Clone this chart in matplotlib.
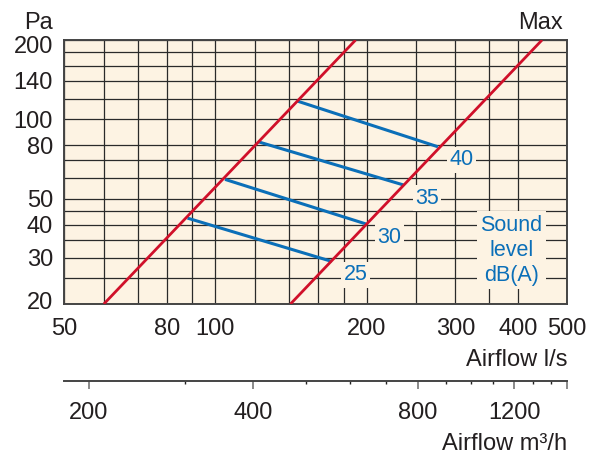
import matplotlib
matplotlib.use("Agg")
import matplotlib.pyplot as plt
from matplotlib.ticker import FixedLocator, FixedFormatter, NullFormatter
from matplotlib.transforms import ScaledTranslation

plt.rcParams['font.family'] = ['Liberation Sans', 'DejaVu Sans']

# axis ticks / grid
x_major = [50, 80, 100, 200, 300, 400, 500]
x_minor = [60, 70, 90, 120, 140, 160, 180, 250, 350]
y_major = [20, 30, 40, 50, 80, 100, 140, 200]
y_minor = [25, 35, 45, 60, 70, 120, 160, 180]

m3h_major = [200, 400, 800, 1200, 1500]
m3h_major_labels = ['200', '400', '800', '1200', '']
m3h_minor = [300, 500, 600, 700, 900, 1000, 1100, 1300, 1400]

# min / max system curves (airflow l/s, pressure Pa)
min_q = [60, 190]
min_p = [20, 200]
max_q = [141, 446]
max_p = [20, 200]

# sound level lines dB(A)
sound_levels = [25, 30, 35, 40]
left_q = [88, 104.5, 121.7, 145.3]
left_p = [42.3, 59.3, 82.3, 117.5]
right_q = [170.3, 199.2, 236.4, 277]
right_p = [29, 40.2, 56.5, 78.8]

bg = '#FDF3E3'
red = '#D0102A'
blue = '#0B6FB8'
txt = '#231F20'
fs = 17

W, H = 597, 455
fig = plt.figure(figsize=(W / 100, H / 100), dpi=100)

ax = fig.add_axes([64 / W, 1 - 304 / H, (567 - 64) / W, (304 - 40) / H])
ax.set_xscale('log')
ax.set_yscale('log')
ax.set_xlim(50, 500)
ax.set_ylim(20, 200)
ax.set_facecolor(bg)

ax.xaxis.set_major_locator(FixedLocator(x_major))
ax.xaxis.set_major_formatter(FixedFormatter([str(v) for v in x_major]))
ax.xaxis.set_minor_locator(FixedLocator(x_minor))
ax.xaxis.set_minor_formatter(NullFormatter())
ax.yaxis.set_major_locator(FixedLocator(y_major))
ax.yaxis.set_major_formatter(FixedFormatter([str(v) for v in y_major]))
ax.yaxis.set_minor_locator(FixedLocator(y_minor))
ax.yaxis.set_minor_formatter(NullFormatter())

ax.tick_params(which='both', length=0, labelsize=fs, labelcolor=txt)
ax.tick_params(axis='x', pad=10)
ax.tick_params(axis='y', pad=8)
ax.grid(which='both', color='#2a2a2a', linewidth=0.9)
ax.set_axisbelow(True)
for s in ax.spines.values():
    s.set_color('#444444')
    s.set_linewidth(1.4)

# end labels sit a bit inside the frame
yticks = ax.yaxis.get_major_ticks()
lab = yticks[0].label1
lab.set_transform(lab.get_transform() + ScaledTranslation(0, 2.5 / 72, fig.dpi_scale_trans))
lab = yticks[-1].label1
lab.set_transform(lab.get_transform() + ScaledTranslation(0, -3.5 / 72, fig.dpi_scale_trans))

ax.plot(min_q, min_p, color=red, lw=2.0, solid_capstyle='butt', zorder=3)
ax.plot(max_q, max_p, color=red, lw=2.0, solid_capstyle='butt', zorder=3)

for lvl, q1, p1, q2, p2 in zip(sound_levels, left_q, left_p, right_q, right_p):
    ax.plot([q1, q2], [p1, p2], color=blue, lw=2.2, solid_capstyle='butt', zorder=2)
    ax.annotate(str(lvl), (q2, p2), xytext=(17, -9.5), textcoords='offset points',
                ha='center', va='center', fontsize=15.5, color=blue, zorder=4,
                bbox=dict(boxstyle='square,pad=0.12', fc=bg, ec='none'))

ax.text(388, 32, 'Sound\nlevel\ndB(A)', ha='center', va='center', fontsize=15.5,
        color=blue, linespacing=1.25, zorder=4,
        bbox=dict(boxstyle='square,pad=0.15', fc=bg, ec='none'))

fig.text(53 / W, 1 - 29 / H, 'Pa', ha='right', va='baseline', fontsize=fs, color=txt)
fig.text(563 / W, 1 - 29 / H, 'Max', ha='right', va='baseline', fontsize=fs, color=txt)
fig.text(567 / W, 1 - 366 / H, 'Airflow l/s', ha='right', va='baseline', fontsize=fs, color=txt)

# second airflow scale (m3/h)
ax2 = fig.add_axes([64 / W, 1 - 381 / H, (567 - 64) / W, 0.0001])
ax2.set_xscale('log')
ax2.set_xlim(180, 1500)
ax2.patch.set_visible(False)
ax2.set_yticks([])
for k in ['top', 'left', 'right']:
    ax2.spines[k].set_visible(False)
ax2.spines['bottom'].set_color('#444444')
ax2.spines['bottom'].set_linewidth(1.4)
ax2.xaxis.set_major_locator(FixedLocator(m3h_major))
ax2.xaxis.set_major_formatter(FixedFormatter(m3h_major_labels))
ax2.xaxis.set_minor_locator(FixedLocator(m3h_minor))
ax2.xaxis.set_minor_formatter(NullFormatter())
ax2.tick_params(which='major', length=6, width=1.2, color='#777777',
                labelsize=fs, labelcolor=txt, pad=9)
ax2.tick_params(which='minor', length=2.5, width=1.0, color='#222222')

fig.text(567 / W, 1 - 450 / H, 'Airflow m³/h', ha='right', va='baseline', fontsize=fs, color=txt)

fig.savefig('out.png', dpi=100)
